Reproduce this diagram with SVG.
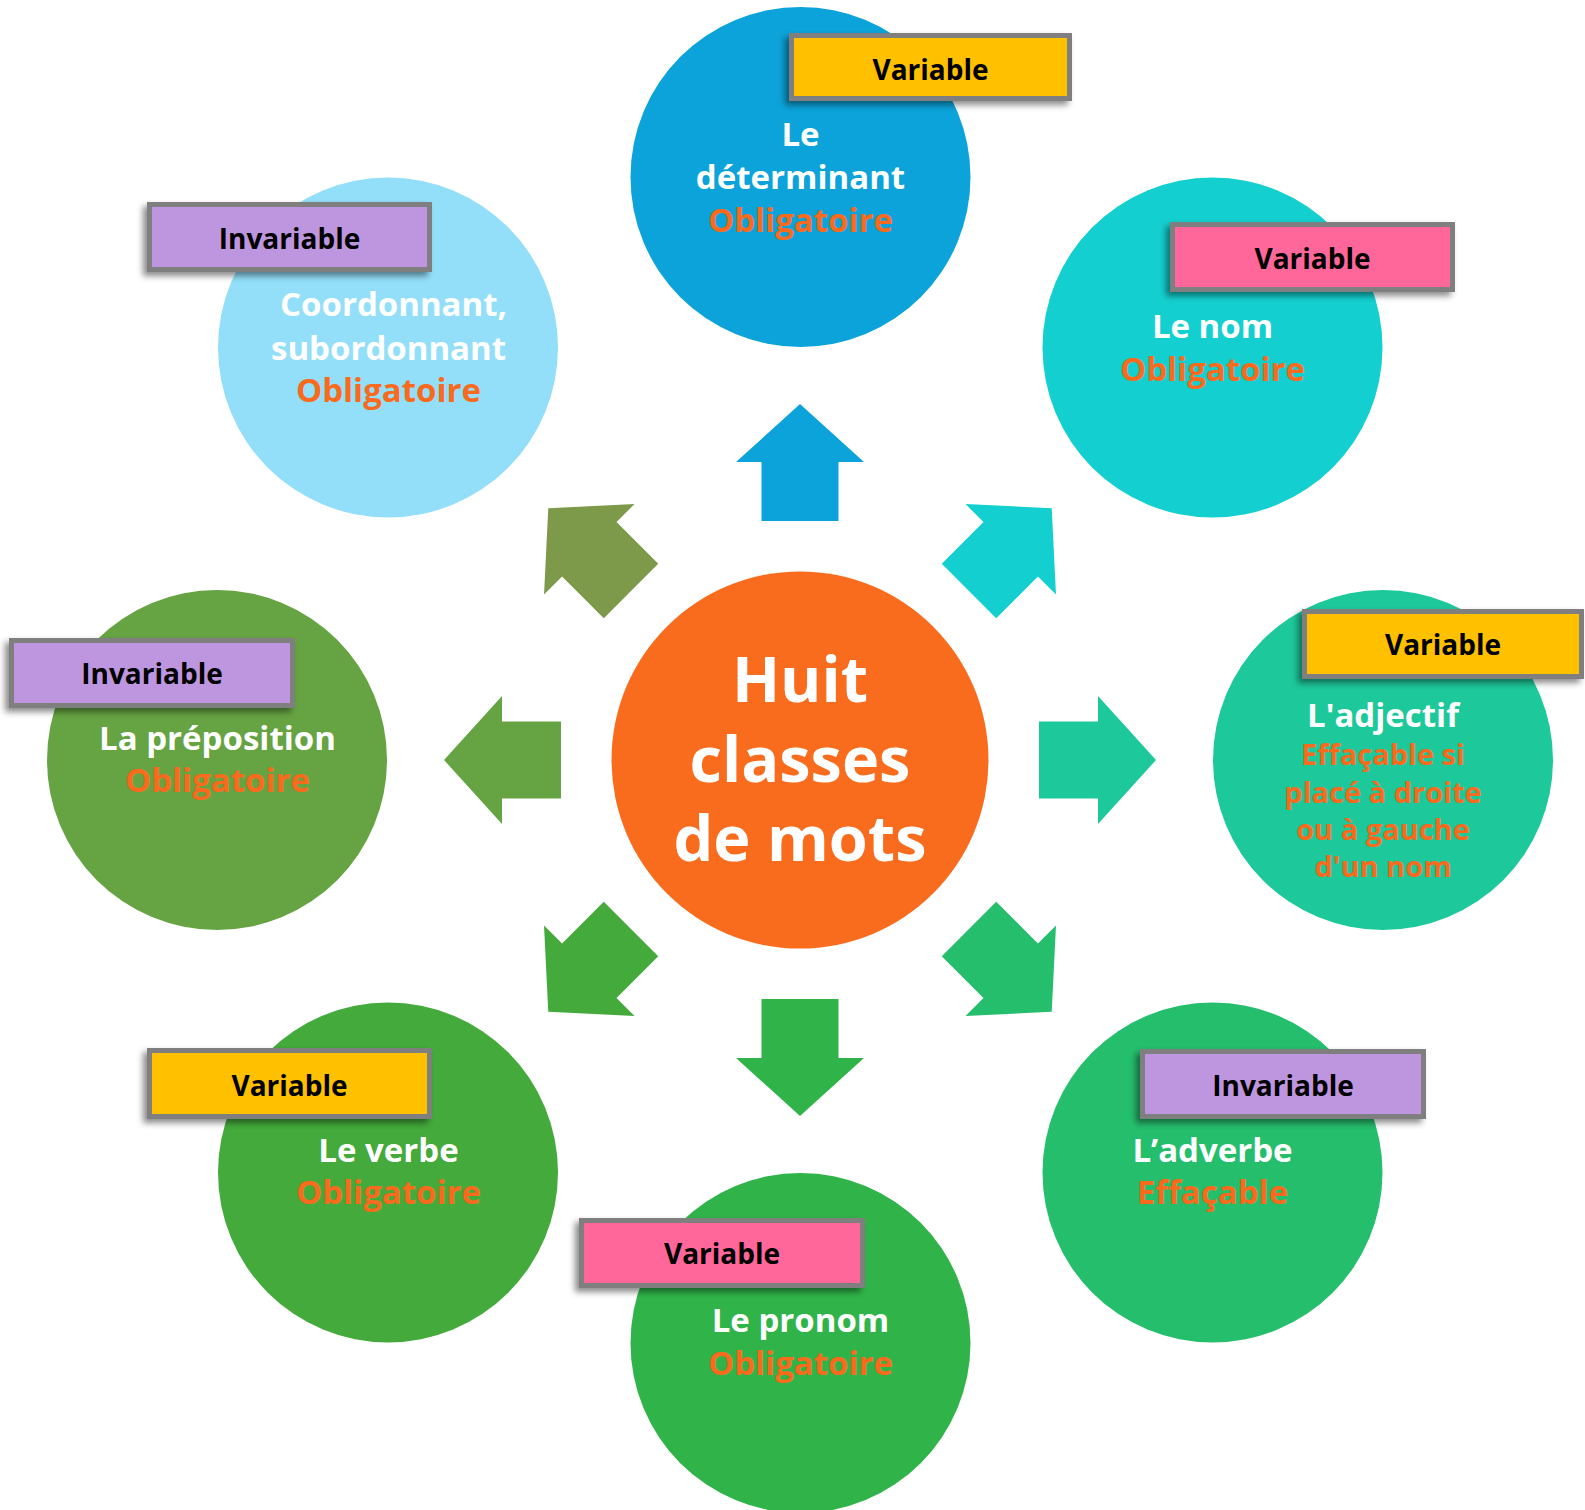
<svg xmlns="http://www.w3.org/2000/svg" width="1585" height="1510" viewBox="0 0 1585 1510">
<defs>
<style>
text{font-family:"Open Sans","DejaVu Sans",sans-serif;font-weight:bold;text-anchor:middle}
.w{fill:#FFFFFF;font-size:33px}
.o{fill:#F96A1C;font-size:33px}
.os{fill:#F96A1C;font-size:29px}
.lt{fill:#000000;font-size:28px}
.lab{stroke:#7F7F7F;stroke-width:5;filter:url(#sh)}
.yel{fill:#FFC000}
.pink{fill:#FF6699}
.pur{fill:#BE95DF}
.ctr{fill:#FFFFFF;font-size:63px}
</style>
<filter id="sh" x="-20%" y="-30%" width="140%" height="160%">
<feDropShadow dx="-4" dy="4" stdDeviation="3" flood-color="#000" flood-opacity="0.45"/>
</filter>
<path id="arr" d="M0,-356 L64,-298 L38.5,-298 L38.5,-239 L-38.5,-239 L-38.5,-298 L-64,-298 Z"/>
</defs>
<rect width="1585" height="1510" fill="#FFFFFF"/>

<g id="connectors">
<use href="#arr" transform="translate(800,760) rotate(0)" fill="#0BA3D9"/>
<use href="#arr" transform="translate(800,760) rotate(45)" fill="#14CFCF"/>
<use href="#arr" transform="translate(800,760) rotate(90)" fill="#1DC89A"/>
<use href="#arr" transform="translate(800,760) rotate(135)" fill="#25BE6D"/>
<use href="#arr" transform="translate(800,760) rotate(180)" fill="#30B449"/>
<use href="#arr" transform="translate(800,760) rotate(225)" fill="#43AA3B"/>
<use href="#arr" transform="translate(800,760) rotate(270)" fill="#66A342"/>
<use href="#arr" transform="translate(800,760) rotate(315)" fill="#7D9A4B"/>
</g>

<g id="center">
<circle cx="800" cy="760" r="188.5" fill="#F96C1E"/>
<text class="ctr" x="800" y="702">Huit</text>
<text class="ctr" x="800" y="782">classes</text>
<text class="ctr" x="800" y="861">de mots</text>
</g>

<g id="determinant">
<circle cx="800.5" cy="177" r="170" fill="#0BA3D9"/>
<rect class="lab yel" x="791.5" y="35.5" width="278" height="63"/>
<text class="lt" x="930.5" y="80">Variable</text>
<text class="w" x="800.5" y="146">Le</text>
<text class="w" x="800.5" y="189">déterminant</text>
<text class="o" x="800.5" y="232">Obligatoire</text>
</g>

<g id="nom">
<circle cx="1212.5" cy="347.5" r="170" fill="#14CFCF"/>
<rect class="lab pink" x="1172.5" y="224.5" width="280" height="65"/>
<text class="lt" x="1312.5" y="269">Variable</text>
<text class="w" x="1212.5" y="338">Le nom</text>
<text class="o" x="1212.5" y="381">Obligatoire</text>
</g>

<g id="adjectif">
<circle cx="1383" cy="760" r="170" fill="#1DC89A"/>
<rect class="lab yel" x="1304.5" y="611.5" width="277" height="65"/>
<text class="lt" x="1443" y="655">Variable</text>
<text class="w" x="1383" y="727">L'adjectif</text>
<text class="os" x="1383" y="765">Effaçable si</text>
<text class="os" x="1383" y="803">placé à droite</text>
<text class="os" x="1383" y="840">ou à gauche</text>
<text class="os" x="1383" y="877">d'un nom</text>
</g>

<g id="adverbe">
<circle cx="1212.5" cy="1172.5" r="170" fill="#25BE6D"/>
<rect class="lab pur" x="1142.5" y="1051.5" width="281" height="65"/>
<text class="lt" x="1283" y="1096">Invariable</text>
<text class="w" x="1212.5" y="1162">L’adverbe</text>
<text class="o" x="1212.5" y="1204">Effaçable</text>
</g>

<g id="pronom">
<circle cx="800.5" cy="1343" r="170" fill="#30B449"/>
<rect class="lab pink" x="581.5" y="1220.5" width="281" height="65"/>
<text class="lt" x="722" y="1264">Variable</text>
<text class="w" x="800.5" y="1332">Le pronom</text>
<text class="o" x="800.5" y="1375">Obligatoire</text>
</g>

<g id="verbe">
<circle cx="388" cy="1172.5" r="170" fill="#43AA3B"/>
<rect class="lab yel" x="149.5" y="1050.5" width="280" height="66"/>
<text class="lt" x="289.5" y="1096">Variable</text>
<text class="w" x="388.5" y="1162">Le verbe</text>
<text class="o" x="388.5" y="1204">Obligatoire</text>
</g>

<g id="preposition">
<circle cx="217" cy="760" r="170" fill="#66A342"/>
<rect class="lab pur" x="11.5" y="640.5" width="281" height="65"/>
<text class="lt" x="152" y="684">Invariable</text>
<text class="w" x="217.5" y="750">La préposition</text>
<text class="o" x="217.5" y="792">Obligatoire</text>
</g>

<g id="conjonction">
<circle cx="388" cy="347.5" r="170" fill="#93DFF9"/>
<rect class="lab pur" x="149.5" y="204.5" width="280" height="65"/>
<text class="lt" x="289.5" y="249">Invariable</text>
<text class="w" x="393.5" y="316">Coordonnant,</text>
<text class="w" x="388.5" y="360">subordonnant</text>
<text class="o" x="388.5" y="402">Obligatoire</text>
</g>
</svg>
